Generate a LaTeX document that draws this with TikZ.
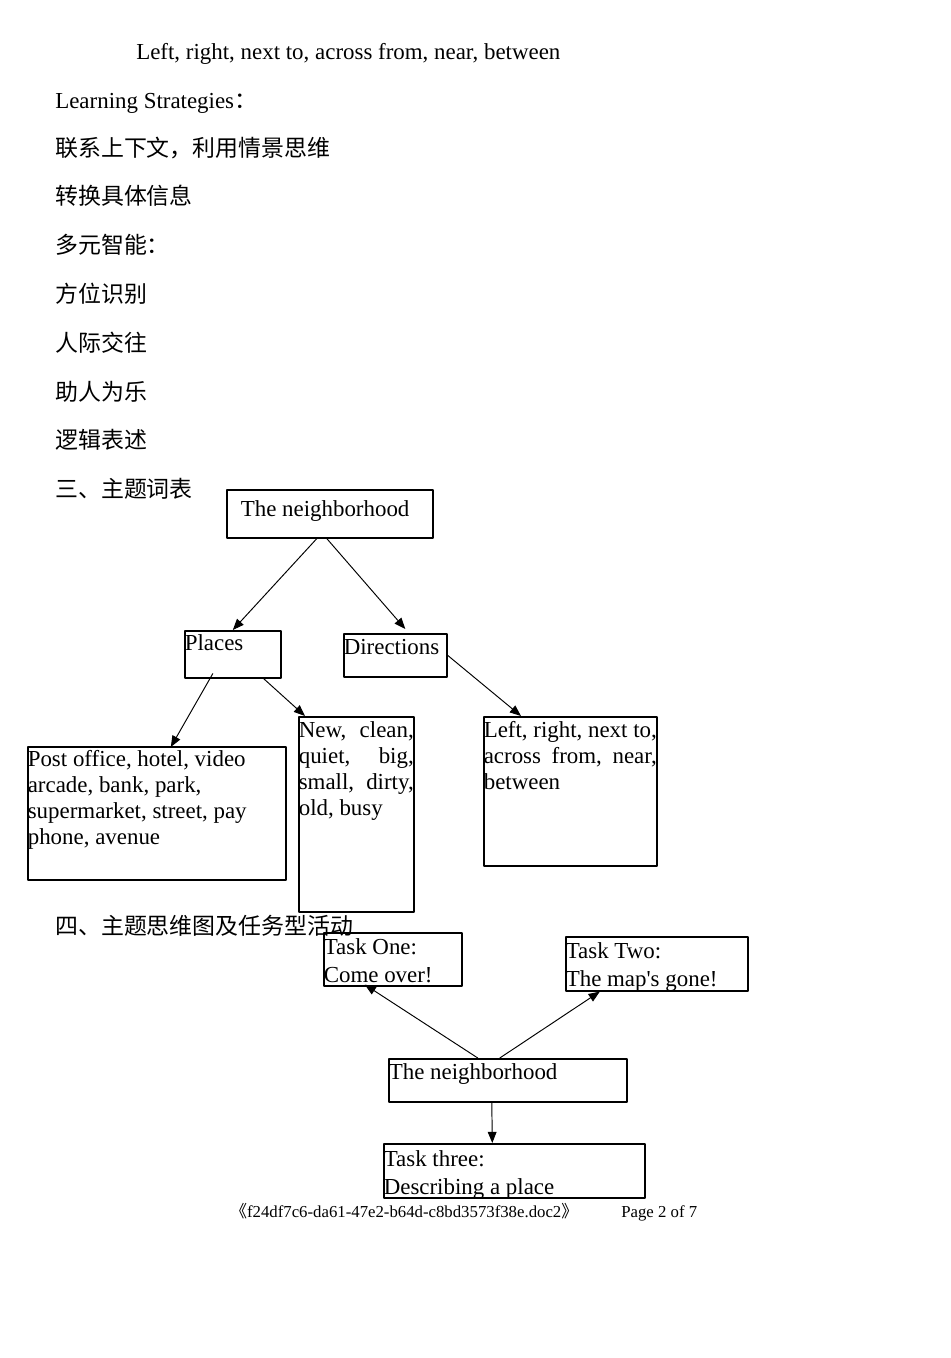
\documentclass[tikz,border=0pt]{standalone}
\usepackage{fontspec}
\setmainfont{Liberation Serif}
\newfontfamily\cjk{Noto Sans CJK SC}
\usepackage{tikz}
\usetikzlibrary{calc,arrows.meta,positioning}
\newdimen\px \px=0.6263pt
\tikzset{
  WordBox/.style={
    draw, line width=1pt,
    inner sep=0pt, anchor=north west
  },
  PlainText/.style={inner sep=0pt, anchor=base west},
  MapArrow/.style={
    draw, line width=0.6pt,
    -{Triangle[length=7pt,width=5.5pt]}
  }
}
\newcommand{\BoxText}[4][20]{%
  % #1 = top to first baseline, #2 = width, #3 = height, #4 = text (all in px)
  \parbox[t][#3\px][t]{#2\px}{\rule{0pt}{#1\px}#4}%
}

\begin{document}
\fontsize{14.35pt}{16.3pt}\selectfont
\begin{tikzpicture}[x=\px, y=-\px, line cap=round, line join=round]
  \useasboundingbox (0,0) rectangle (950,1358);

  % text of the page
  \node[PlainText] (words) at (136,60) {Left, right, next to, across from, near, between};
  \node[PlainText] (ls) at (55,109) {Learning Strategies{\cjk ：}};
  \node[PlainText] (s1) at (55,156.5) {\cjk 联系上下文，利用情景思维};
  \node[PlainText] (s2) at (55,205) {\cjk 转换具体信息};
  \node[PlainText] (s3) at (55,254) {\cjk 多元智能：};
  \node[PlainText] (s4) at (55,302.5) {\cjk 方位识别};
  \node[PlainText] (s5) at (55,351) {\cjk 人际交往};
  \node[PlainText] (s6) at (55,400) {\cjk 助人为乐};
  \node[PlainText] (s7) at (55,448.5) {\cjk 逻辑表述};
  \node[PlainText] (h3) at (55,497.5) {\cjk 三、主题词表};
  \node[PlainText] (h4) at (55,934.5) {\cjk 四、主题思维图及任务型活动};

  % word table
  \node[WordBox] (hood) at (226,489) {\BoxText[27]{206}{48}{\hspace{14\px}The neighborhood}};
  \node[WordBox] (places) at (184,630) {\BoxText[20]{96}{47}{Places}};
  \node[WordBox] (dirs) at (343,633) {\BoxText[21]{103}{43}{Directions}};
  \node[WordBox] (placeWords) at (27,746) {\BoxText[20]{258}{133}{%
    Post office, hotel, video\\ arcade, bank, park,\\ supermarket, street, pay\\ phone, avenue}};
  \node[WordBox] (adjWords) at (298,716) {\BoxText[21]{115}{195}{%
    New,\hfill clean,\\ quiet,\hfill big,\\ small,\hfill dirty,\\ old, busy}};
  \node[WordBox] (dirWords) at (483,716) {\BoxText[21]{173}{149}{%
    Left,\hfill right,\hfill next\hfill to,\\ across\hfill from,\hfill near,\\ between}};

  \draw[MapArrow] ($(hood.south)+(-13,0)$) -- (places.north);
  \draw[MapArrow] ($(hood.south)+(-3,0)$) -- ($(dirs.north)+(10,-4)$);
  \draw[MapArrow] ($(places.south)+(-20,-5)$) -- ($(placeWords.north)+(14,1)$);
  \draw[MapArrow] ($(places.south east)+(-18,0)$) -- ($(adjWords.north west)+(7,0)$);
  \draw[MapArrow] (dirs.east) -- ($(dirWords.north west)+(38,0)$);

  % mind map and tasks
  \node[WordBox] (taskOne) at (323,932) {\BoxText[22]{138}{53}{Task One:\\[1.25pt]Come over!}};
  \node[WordBox] (taskTwo) at (565,936) {\BoxText[22]{182}{54}{Task Two:\\[1.25pt]The map\textquotesingle s gone!}};
  \node[WordBox] (hoodTasks) at (388,1058) {\BoxText[21]{238}{43}{The neighborhood}};
  \node[WordBox] (taskThree) at (383,1143) {\BoxText[23]{261}{54}{Task three:\\[1.25pt]Describing a place}};

  \draw[MapArrow] ($(hoodTasks.north)+(-30,0)$) -- ($(taskOne.south)+(-28,-2)$);
  \draw[MapArrow] ($(hoodTasks.north)+(-8,0)$) -- ($(taskTwo.south)+(-57,0)$);
  \draw[MapArrow] ($(hoodTasks.south)+(-16,0)$) -- ($(taskThree.north)+(-22,0)$);

  % footer
  \node[PlainText, font=\fontsize{10.5pt}{12pt}\selectfont] (file) at (230,1217)
    {{\cjk 《}f24df7c6-da61-47e2-b64d-c8bd3573f38e.doc2{\cjk 》}};
  \node[PlainText, font=\fontsize{10.5pt}{12pt}\selectfont] (page) at (621,1217) {Page 2 of 7};
\end{tikzpicture}
\end{document}
